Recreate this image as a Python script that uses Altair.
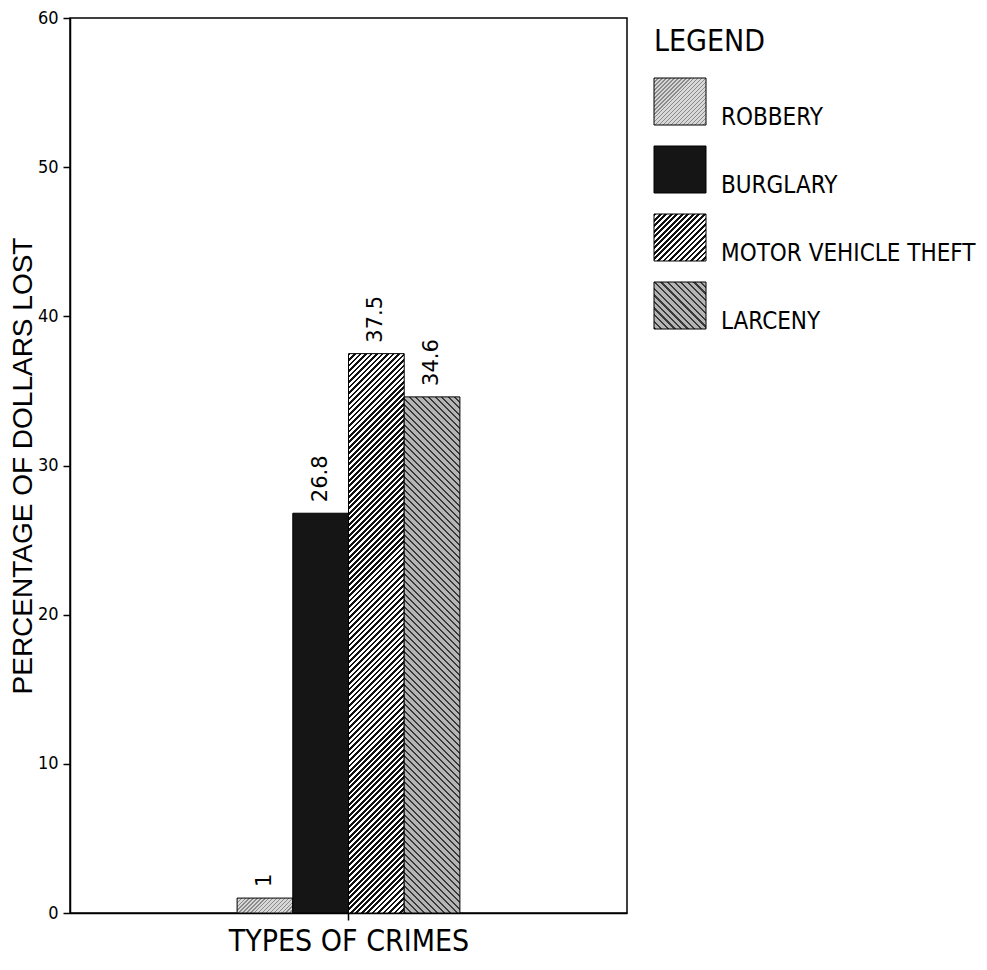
import altair as alt
import pandas as pd

# ---- data ----
crimes = ["ROBBERY", "BURGLARY", "MOTOR VEHICLE THEFT", "LARCENY"]
values = [1, 26.8, 37.5, 34.6]
y_ticks = [0, 10, 20, 30, 40, 50, 60]
group_name = "TYPES OF CRIMES"
y_title = "PERCENTAGE OF DOLLARS LOST"
legend_title = "LEGEND"

# ---- layout / style ----
W, H = 557, 895
Y_MAX = 60
PAD_OUTER = 0.75
BAR_W = W / (1 + 2 * PAD_OUTER) / len(crimes)
SW_W, SW_H, STEP = 52, 47, 68
LEG_H = 311
P_IN = (STEP - SW_H) / STEP
P_OUT = (LEG_H / STEP - (len(crimes) - P_IN)) / 2
NARROW = "Liberation Sans Narrow, Arial Narrow, DejaVu Sans Condensed, sans-serif"
SANS = "Liberation Sans, Arial, sans-serif"

styles = {
    "ROBBERY": dict(kind="/", c1="#8a8a8a", c2="#d8d8d8", period=4.0, frac=0.35),
    "BURGLARY": dict(kind="solid", c1="#151515"),
    "MOTOR VEHICLE THEFT": dict(kind="/", c1="#111111", c2="#ffffff", period=5.5, frac=0.5),
    "LARCENY": dict(kind="\\", c1="#3a3a3a", c2="#b5b5b5", period=6.5, frac=0.35),
}


def pattern(style, w, h):
    """Diagonal hatch fill built as a linear gradient with hard stops."""
    if style["kind"] == "solid":
        return style["c1"]
    c1, c2 = style["c1"], style["c2"]
    n = max(1, int(round((w + h) / style["period"])))
    stops = []
    for i in range(n):
        a = round(i / n, 5)
        b = round((i + style["frac"]) / n, 5)
        c = round((i + 1) / n, 5)
        stops += [
            {"offset": a, "color": c1},
            {"offset": b, "color": c1},
            {"offset": b, "color": c2},
            {"offset": c, "color": c2},
        ]
    k = (w + h) / (w * w + h * h)
    if style["kind"] == "/":
        x1, y1, x2, y2 = 0, 0, w * k, h * k
    else:
        x1, y1, x2, y2 = 0, 1, w * k, 1 - h * k
    return {"gradient": "linear", "x1": x1, "y1": y1, "x2": round(x2, 5),
            "y2": round(y2, 5), "stops": stops}


df = pd.DataFrame({
    "group": group_name,
    "crime": crimes,
    "value": values,
    "label": [f"{v:g}" for v in values],
})

x_enc = alt.X(
    "group:N",
    scale=alt.Scale(paddingInner=0, paddingOuter=PAD_OUTER),
    axis=alt.Axis(title=group_name, labels=False, ticks=True, tickSize=7,
                  titleFont=NARROW, titleFontSize=30, titleFontWeight="normal",
                  titlePadding=6, domainColor="black", tickColor="black",
                  domainWidth=1.5, tickWidth=1.5, titleColor="black"),
)
xo_enc = alt.XOffset("crime:N", scale=alt.Scale(domain=crimes, paddingInner=0, paddingOuter=0))
y_enc = alt.Y(
    "value:Q",
    scale=alt.Scale(domain=[0, Y_MAX], nice=False),
    axis=alt.Axis(values=y_ticks, title=y_title, grid=False, tickSize=7,
                  labelPadding=5, labelFont=NARROW, labelFontSize=18,
                  labelColor="black", titleFont=SANS, titleFontSize=28,
                  titleFontWeight="normal", titlePadding=0, titleColor="black",
                  domainColor="black", tickColor="black", domainWidth=1.5,
                  tickWidth=1.5),
)

base = alt.Chart(df)
bar_layers = [
    base.transform_filter(alt.datum.crime == c)
    .mark_bar(fill=pattern(styles[c], BAR_W, v * H / Y_MAX), stroke="black", strokeWidth=1)
    .encode(x=x_enc, xOffset=xo_enc, y=y_enc)
    for c, v in zip(crimes, values)
]
value_labels = base.mark_text(
    angle=270, align="left", baseline="middle", dx=11,
    font="DejaVu Sans", fontSize=21, color="black",
).encode(x=x_enc, xOffset=xo_enc, y=y_enc, text="label:N")

main = alt.layer(*bar_layers, value_labels).properties(
    width=W, height=H,
    view=alt.ViewBackground(stroke="black", strokeWidth=1.5),
)

# ---- legend panel ----
ldf = pd.DataFrame({"crime": crimes})
ly = alt.Y("crime:N", scale=alt.Scale(domain=crimes, paddingInner=P_IN,
                                      paddingOuter=P_OUT, align=1), axis=None)
swatches = [
    alt.Chart(ldf).transform_filter(alt.datum.crime == c)
    .mark_rect(fill=pattern(styles[c], SW_W, SW_H), stroke="black", strokeWidth=1)
    .encode(y=ly, x=alt.value(0), x2=alt.value(SW_W))
    for c in crimes
]
legend_text = alt.Chart(ldf).mark_text(
    align="left", baseline="alphabetic", dy=SW_H / 2, font=NARROW, fontSize=24, color="black"
).encode(y=ly, x=alt.value(67), text="crime:N")
legend_head = alt.Chart(pd.DataFrame({"t": [legend_title]})).mark_text(
    align="left", baseline="alphabetic", font=NARROW, fontSize=30, color="black"
).encode(x=alt.value(0), y=alt.value(33), text="t:N")

legend = alt.layer(*swatches, legend_text, legend_head).properties(
    width=300, height=LEG_H,
    view=alt.ViewBackground(stroke="transparent"),
)

chart = alt.hconcat(main, legend, spacing=25).properties(
    padding={"left": 0, "top": 0, "right": 0, "bottom": 0},
    background="white",
)

chart.save("out.html", embed_options={"renderer": "svg", "actions": False})
